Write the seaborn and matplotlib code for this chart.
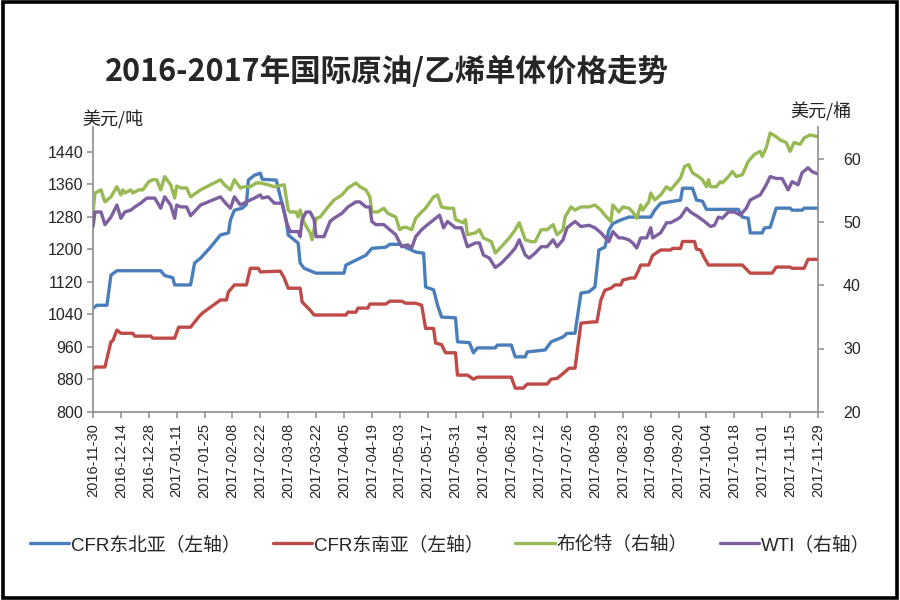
import matplotlib
matplotlib.use('Agg')
import matplotlib.pyplot as plt
import seaborn as sns
import pandas as pd
from matplotlib.patches import Rectangle

sns.set_style('white')
plt.rcParams['font.family'] = ['Liberation Sans', 'Noto Sans CJK SC', 'DejaVu Sans']

# ---------------- data ----------------
start_date = '2016-11-30'
end_date = '2017-11-29'
series_names = ['CFR东北亚（左轴）', 'CFR东南亚（左轴）', '布伦特（右轴）', 'WTI（右轴）']

# day offsets from 2016-11-30 and values
ne_days = [0, 2, 7, 9, 12, 34, 36, 40, 41, 49, 51, 54, 59, 64, 68, 69, 71, 75, 77, 78,
           81, 84, 85, 92, 94, 97, 98, 103, 104, 106, 112, 126, 127, 132, 137, 140, 147, 149, 154, 158,
           162, 166, 167, 171, 173, 175, 182, 183, 189, 191, 193, 202, 203, 210, 212, 217, 218, 227, 230, 236,
           238, 242, 245, 249, 252, 254, 257, 259, 261, 265, 269, 280, 282, 285, 295, 296, 301, 303, 306, 308,
           324, 326, 329, 330, 336, 337, 340, 343, 350, 351, 356, 357, 364]
cfr_ne = [1055, 1062, 1062, 1136, 1147, 1147, 1135, 1130, 1112, 1112, 1166, 1178, 1205, 1235, 1240, 1272, 1296, 1301, 1310, 1370,
          1382, 1387, 1372, 1370, 1330, 1272, 1235, 1215, 1166, 1153, 1141, 1141, 1161, 1173, 1185, 1202, 1205, 1212, 1212, 1202,
          1193, 1190, 1107, 1100, 1062, 1033, 1031, 972, 970, 945, 957, 957, 964, 964, 935, 935, 947, 952, 972, 984,
          993, 993, 1092, 1095, 1107, 1198, 1205, 1247, 1263, 1272, 1279, 1279, 1296, 1313, 1321, 1350, 1350, 1321, 1318, 1298,
          1298, 1279, 1276, 1240, 1240, 1252, 1254, 1301, 1301, 1296, 1296, 1301, 1301]

se_days = [0, 1, 6, 9, 10, 12, 14, 20, 21, 29, 30, 41, 43, 49, 53, 55, 64, 67, 68, 71,
           77, 79, 83, 84, 94, 96, 98, 104, 105, 109, 111, 127, 128, 132, 133, 138, 139, 147, 149, 155,
           157, 162, 165, 167, 171, 172, 175, 177, 182, 183, 188, 191, 193, 210, 212, 216, 218, 228, 230, 233,
           236, 239, 242, 245, 251, 253, 255, 257, 260, 262, 265, 266, 270, 272, 274, 275, 279, 281, 285, 290,
           291, 295, 296, 302, 303, 305, 307, 309, 326, 330, 341, 343, 350, 351, 357, 359, 364]
cfr_se = [905, 910, 910, 972, 975, 1001, 993, 993, 986, 986, 981, 981, 1008, 1008, 1033, 1043, 1075, 1075, 1095, 1112,
          1112, 1153, 1153, 1144, 1146, 1129, 1104, 1104, 1070, 1050, 1038, 1038, 1045, 1045, 1055, 1055, 1065, 1065, 1072, 1072,
          1067, 1067, 1062, 1005, 1005, 969, 965, 945, 945, 890, 890, 880, 885, 885, 858, 858, 868, 868, 880, 882,
          894, 907, 907, 1018, 1021, 1021, 1075, 1099, 1104, 1112, 1112, 1124, 1129, 1129, 1149, 1161, 1161, 1185, 1198, 1198,
          1202, 1202, 1219, 1219, 1200, 1198, 1178, 1161, 1161, 1141, 1141, 1156, 1156, 1153, 1153, 1175, 1175]

brent_days = [0, 1, 4, 6, 9, 12, 14, 15, 16, 19, 20, 23, 25, 28, 30, 32, 34, 36, 39, 41,
              42, 44, 47, 49, 54, 64, 66, 69, 71, 74, 76, 79, 82, 84, 88, 91, 96, 98, 99, 102,
              103, 104, 106, 109, 110, 112, 114, 118, 121, 125, 128, 132, 134, 137, 139, 140, 143, 146, 148, 152,
              154, 156, 158, 160, 162, 165, 167, 171, 173, 175, 178, 181, 182, 186, 187, 188, 192, 194, 196, 200,
              202, 205, 209, 212, 214, 217, 220, 222, 225, 228, 231, 233, 236, 237, 240, 242, 245, 249, 252, 255,
              257, 260, 261, 264, 266, 269, 271, 273, 275, 276, 279, 280, 282, 285, 288, 290, 293, 295, 297, 299,
              301, 304, 306, 308, 309, 310, 313, 315, 316, 319, 321, 323, 326, 329, 332, 335, 336, 338, 340, 343,
              345, 348, 350, 352, 355, 357, 360, 364]
brent = [51.6, 54.6, 55.1, 53.2, 54.0, 55.6, 54.3, 55.1, 54.6, 55.1, 54.6, 55.1, 55.1, 56.4, 56.7, 56.7, 55.1, 57.2, 55.9, 53.8,
         55.7, 55.4, 55.4, 54.0, 55.1, 56.7, 55.9, 55.1, 56.7, 55.4, 55.6, 55.6, 56.2, 56.2, 55.9, 55.6, 55.9, 51.9, 51.6, 51.6,
         50.8, 51.9, 49.9, 48.3, 47.2, 50.6, 50.8, 52.4, 53.5, 54.3, 55.4, 56.2, 55.6, 55.1, 54.0, 51.6, 51.6, 52.2, 51.4, 50.8,
         48.8, 49.2, 49.1, 48.8, 50.6, 51.6, 52.2, 54.0, 54.3, 52.4, 52.2, 52.2, 50.4, 49.9, 50.4, 48.0, 48.3, 48.8, 47.5, 46.9,
         45.1, 46.1, 47.5, 48.8, 49.9, 47.2, 46.9, 46.9, 48.8, 48.8, 49.6, 48.0, 48.8, 50.8, 52.4, 51.9, 52.4, 52.4, 52.7, 51.9,
         51.1, 50.1, 52.7, 51.6, 52.4, 52.2, 51.6, 50.6, 52.7, 51.9, 53.2, 54.6, 53.5, 54.3, 55.6, 55.1, 56.2, 57.0, 58.8, 59.1,
         57.8, 57.2, 56.7, 55.6, 56.7, 55.6, 55.6, 56.4, 56.2, 57.2, 58.0, 57.2, 57.5, 59.6, 60.7, 61.2, 60.4, 61.8, 64.1, 63.5,
         63.0, 62.6, 61.2, 62.6, 62.3, 63.3, 63.8, 63.5]

wti_days = [0, 1, 4, 6, 9, 12, 14, 16, 19, 21, 24, 27, 31, 34, 36, 39, 41, 42, 44, 47,
            49, 54, 64, 66, 69, 71, 74, 77, 81, 84, 85, 88, 91, 95, 97, 99, 103, 104, 105, 107,
            109, 111, 112, 116, 119, 121, 125, 128, 132, 134, 137, 139, 140, 142, 146, 149, 152, 155, 158, 160,
            162, 165, 168, 172, 174, 176, 178, 182, 185, 188, 192, 194, 196, 199, 202, 205, 209, 212, 214, 217,
            219, 222, 225, 228, 231, 233, 236, 238, 242, 245, 249, 252, 255, 259, 261, 264, 266, 269, 271, 273,
            275, 278, 280, 281, 285, 288, 290, 293, 295, 298, 300, 304, 307, 310, 312, 314, 316, 319, 322, 325,
            328, 330, 333, 335, 338, 340, 343, 346, 349, 351, 354, 356, 359, 361, 364]
wti = [49.3, 51.6, 51.6, 49.6, 50.8, 52.7, 50.6, 51.6, 51.9, 52.4, 53.0, 53.8, 53.8, 52.2, 54.0, 52.7, 50.6, 52.7, 52.4, 52.4,
       51.0, 52.7, 54.0, 53.2, 52.2, 54.0, 52.7, 53.2, 53.8, 54.3, 53.8, 54.0, 53.0, 53.0, 50.1, 48.5, 48.5, 47.7, 50.4, 51.6,
       51.6, 50.4, 47.7, 47.7, 50.1, 50.6, 51.4, 52.4, 53.2, 53.2, 52.4, 52.4, 50.1, 49.6, 49.6, 48.8, 48.0, 46.1, 46.4, 45.9,
       47.7, 48.8, 49.6, 50.6, 51.1, 49.1, 50.1, 49.1, 49.1, 46.1, 46.7, 46.7, 44.8, 44.3, 42.8, 43.5, 44.8, 45.9, 47.2, 44.8,
       44.3, 45.1, 46.1, 46.1, 47.2, 46.1, 47.2, 49.1, 50.1, 49.3, 49.5, 49.1, 48.3, 46.9, 48.5, 47.5, 47.5, 47.2, 46.7, 45.9,
       47.5, 47.5, 49.1, 47.5, 48.3, 49.9, 49.9, 50.4, 50.8, 52.2, 51.6, 50.8, 50.1, 49.3, 49.5, 50.8, 50.6, 51.6, 51.6, 51.1,
       52.2, 53.5, 54.0, 54.3, 55.9, 57.2, 56.9, 56.9, 55.1, 56.4, 55.9, 57.8, 58.6, 58.0, 57.6]

colors = ['#4A7EBB', '#BE4B48', '#98B954', '#7D60A0']

# ---------------- helpers ----------------
start = pd.Timestamp(start_date)


def make_df(days, vals):
    return pd.DataFrame({'date': start + pd.to_timedelta(days, unit='D'), 'value': vals})


tick_dates = pd.date_range(start_date, end_date, freq='14D')

# ---------------- figure ----------------
fig = plt.figure(figsize=(9, 6), dpi=100)
ax = fig.add_axes([93 / 900, 1 - 411.7 / 600, 725 / 900, (411.7 - 127.3) / 600])
ax2 = ax.twinx()

lw = 2.4
sns.lineplot(data=make_df(ne_days, cfr_ne), x='date', y='value', ax=ax, color=colors[0],
             linewidth=lw, estimator=None, sort=False, label=series_names[0])
sns.lineplot(data=make_df(se_days, cfr_se), x='date', y='value', ax=ax, color=colors[1],
             linewidth=lw, estimator=None, sort=False, label=series_names[1])
sns.lineplot(data=make_df(brent_days, brent), x='date', y='value', ax=ax2, color=colors[2],
             linewidth=lw, estimator=None, sort=False, label=series_names[2])
sns.lineplot(data=make_df(wti_days, wti), x='date', y='value', ax=ax2, color=colors[3],
             linewidth=lw, estimator=None, sort=False, label=series_names[3])

h1, l1 = ax.get_legend_handles_labels()
h2, l2 = ax2.get_legend_handles_labels()
for a in (ax, ax2):
    if a.get_legend() is not None:
        a.get_legend().remove()

ax.set_xlim(start, pd.Timestamp(end_date))
ax.set_ylim(800, 1500)
ax2.set_ylim(20, 65)
ax.set_yticks(list(range(800, 1441, 80)))
ax2.set_yticks([20, 30, 40, 50, 60])
ax.set_xticks(tick_dates)
ax.set_xticklabels([d.strftime('%Y-%m-%d') for d in tick_dates], rotation=90, fontsize=10.5)
for a in (ax, ax2):
    a.set_xlabel('')
    a.set_ylabel('')
    a.grid(False)

gray = '#8C8C8C'
for a in (ax, ax2):
    for s in a.spines.values():
        s.set_color(gray)
        s.set_linewidth(1.2)
    a.spines['top'].set_visible(False)
ax2.spines['left'].set_visible(False)
ax2.spines['bottom'].set_visible(False)
ax.spines['right'].set_visible(False)

ax.tick_params(axis='y', direction='out', length=4, width=1.1, color=gray, labelsize=11.5, pad=3, left=True)
ax.tick_params(axis='x', direction='out', length=4, width=1.1, color=gray, pad=4, bottom=True)
ax2.tick_params(axis='y', direction='out', length=4, width=1.1, color=gray, labelsize=11.5, pad=14, right=True)

# unit labels
fig.text(82 / 900, 1 - 120 / 600, '美元/吨', fontsize=13, ha='left', va='center',
         family=['Noto Sans CJK SC', 'DejaVu Sans'], color='#222222')
fig.text(790 / 900, 1 - 112 / 600, '美元/桶', fontsize=13, ha='left', va='center',
         family=['Noto Sans CJK SC', 'DejaVu Sans'], color='#222222')

# title
fig.text(105 / 900, 1 - 72 / 600, '2016-2017年国际原油/乙烯单体价格走势', fontsize=22,
         fontweight='bold', ha='left', va='center', family=['Noto Sans CJK SC', 'DejaVu Sans'])

# legend
fig.legend(h1 + h2, l1 + l2, loc='center', bbox_to_anchor=(0.5, 1 - 545 / 600), ncol=4,
           frameon=False, fontsize=13.5, handlelength=2.1, handletextpad=0.1, columnspacing=1.7)

# outer frame
fig.patches.append(Rectangle((0.003, 0.004), 0.994, 0.992, transform=fig.transFigure,
                             fill=False, edgecolor='black', linewidth=2.6, zorder=10))

fig.savefig('out.png', dpi=100)
